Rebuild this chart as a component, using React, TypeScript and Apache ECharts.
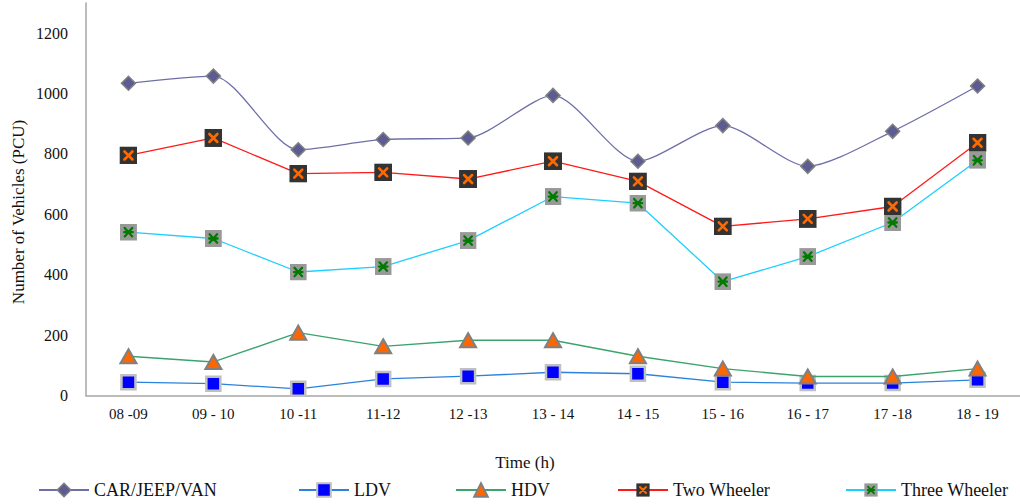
import React, { useEffect, useRef } from "react";
import * as echarts from "echarts";

const categories = ["08 -09", "09 - 10", "10 -11", "11-12", "12 -13", "13 - 14", "14 - 15", "15 - 16", "16 - 17", "17 -18", "18 - 19"];
const carJeepVan = [1034, 1058, 814, 848, 853, 994, 776, 894, 759, 875, 1025];
const ldv = [44, 39, 22, 55, 64, 77, 72, 44, 41, 41, 52];
const hdv = [130, 111, 208, 163, 183, 183, 130, 89, 63, 63, 89];
const twoWheeler = [795, 853, 735, 739, 717, 776, 709, 560, 585, 626, 837];
const threeWheeler = [541, 520, 409, 427, 513, 659, 637, 377, 460, 573, 779];
const yTicks = [0, 200, 400, 600, 800, 1000, 1200];

const FONT = "Liberation Serif, Times New Roman, serif";

const svgUri = (svg: string) => "image://data:image/svg+xml;charset=utf-8," + encodeURIComponent(svg);

const twoSymbol = svgUri(
  "<svg xmlns='http://www.w3.org/2000/svg' width='18' height='18' viewBox='0 0 18 18'>" +
    "<rect width='18' height='18' fill='#333333'/>" +
    "<path d='M5 5L13 13M13 5L5 13' stroke='#ff6a00' stroke-width='2.6' stroke-linecap='round'/></svg>"
);
const threeSymbol = svgUri(
  "<svg xmlns='http://www.w3.org/2000/svg' width='18' height='18' viewBox='0 0 18 18'>" +
    "<rect width='18' height='18' fill='#999999'/>" +
    "<path d='M5 4.5L13 13.5M13 4.5L5 13.5M4.5 9L13.5 9' stroke='#007a00' stroke-width='2.4' stroke-linecap='round'/></svg>"
);

export default function App() {
  const ref = useRef<HTMLDivElement>(null);
  useEffect(() => {
    if (!ref.current) return;
    const chart = echarts.init(ref.current, null, { renderer: "svg" });
    const legendBase = {
      top: 481,
      padding: 0,
      itemWidth: 50,
      itemHeight: 17,
      selectedMode: false,
      textStyle: { fontFamily: FONT, fontSize: 18, color: "#111" },
    };
    chart.setOption({
      animation: false,
      backgroundColor: "#ffffff",
      textStyle: { fontFamily: FONT },
      grid: { left: 86, right: 0, top: 3, bottom: 108.5, containLabel: false },
      xAxis: {
        type: "category",
        data: categories,
        boundaryGap: true,
        axisLine: { lineStyle: { color: "#a6a6a6", width: 1.5 } },
        axisTick: { show: false },
        axisLabel: { fontFamily: FONT, fontSize: 15, color: "#111", margin: 11 },
        splitLine: { show: false },
      },
      yAxis: {
        type: "value",
        min: 0,
        max: 1300,
        interval: 200,
        axisLine: { show: true, lineStyle: { color: "#a6a6a6", width: 1.5 } },
        axisTick: { show: false },
        splitLine: { show: false },
        axisLabel: {
          fontFamily: FONT,
          fontSize: 16,
          color: "#111",
          margin: 18,
          formatter: (v: number) => (yTicks.includes(v) ? String(v) : ""),
        },
      },
      legend: [
        { ...legendBase, left: 38, data: ["CAR/JEEP/VAN"], itemStyle: { color: "#5c5c92", borderColor: "#808080", borderWidth: 1.5 } },
        { ...legendBase, left: 298, data: ["LDV"], itemStyle: { color: "#0000ff", borderColor: "#c0c0c0", borderWidth: 2 } },
        { ...legendBase, left: 455, data: ["HDV"], itemStyle: { color: "#ff6600", borderColor: "#808080", borderWidth: 2 } },
        { ...legendBase, left: 617, data: ["Two Wheeler"] },
        { ...legendBase, left: 845, data: ["Three Wheeler"] },
      ],
      graphic: [
        {
          type: "text",
          x: 18,
          y: 212,
          rotation: Math.PI / 2,
          style: {
            text: "Number of Vehicles (PCU)",
            fontFamily: FONT,
            fontSize: 17,
            fill: "#111",
            textAlign: "center",
            textVerticalAlign: "middle",
          },
        },
        {
          type: "text",
          x: 525,
          y: 462,
          style: {
            text: "Time (h)",
            fontFamily: FONT,
            fontSize: 17,
            fill: "#111",
            textAlign: "center",
            textVerticalAlign: "middle",
          },
        },
      ],
      series: [
        {
          name: "CAR/JEEP/VAN",
          type: "line",
          data: carJeepVan,
          smooth: 0.25,
          symbol: "diamond",
          symbolSize: 14,
          lineStyle: { color: "#6f6fa8", width: 1.3 },
          itemStyle: { color: "#5c5c92", borderColor: "#808080", borderWidth: 1.5 },
          z: 2,
        },
        {
          name: "LDV",
          type: "line",
          data: ldv,
          symbol: "rect",
          symbolSize: 14,
          lineStyle: { color: "#2b82dc", width: 1.3 },
          itemStyle: { color: "#0000ff", borderColor: "#c0c0c0", borderWidth: 2.5 },
          z: 2,
        },
        {
          name: "HDV",
          type: "line",
          data: hdv,
          symbol: "triangle",
          symbolSize: [16, 14],
          lineStyle: { color: "#3ba36c", width: 1.3 },
          itemStyle: { color: "#ff6600", borderColor: "#808080", borderWidth: 2 },
          z: 3,
        },
        {
          name: "Three Wheeler",
          type: "line",
          data: threeWheeler,
          symbol: threeSymbol,
          symbolSize: 17,
          lineStyle: { color: "#1ccfff", width: 1.3 },
          itemStyle: { color: "#1ccfff" },
          z: 4,
        },
        {
          name: "Two Wheeler",
          type: "line",
          data: twoWheeler,
          symbol: twoSymbol,
          symbolSize: 18,
          lineStyle: { color: "#ff1a1a", width: 1.3 },
          itemStyle: { color: "#ff1a1a" },
          z: 5,
        },
      ],
    });
    return () => chart.dispose();
  }, []);
  return <div ref={ref} style={{ position: "fixed", left: 0, top: 0, width: 1020, height: 504 }} />;
}
